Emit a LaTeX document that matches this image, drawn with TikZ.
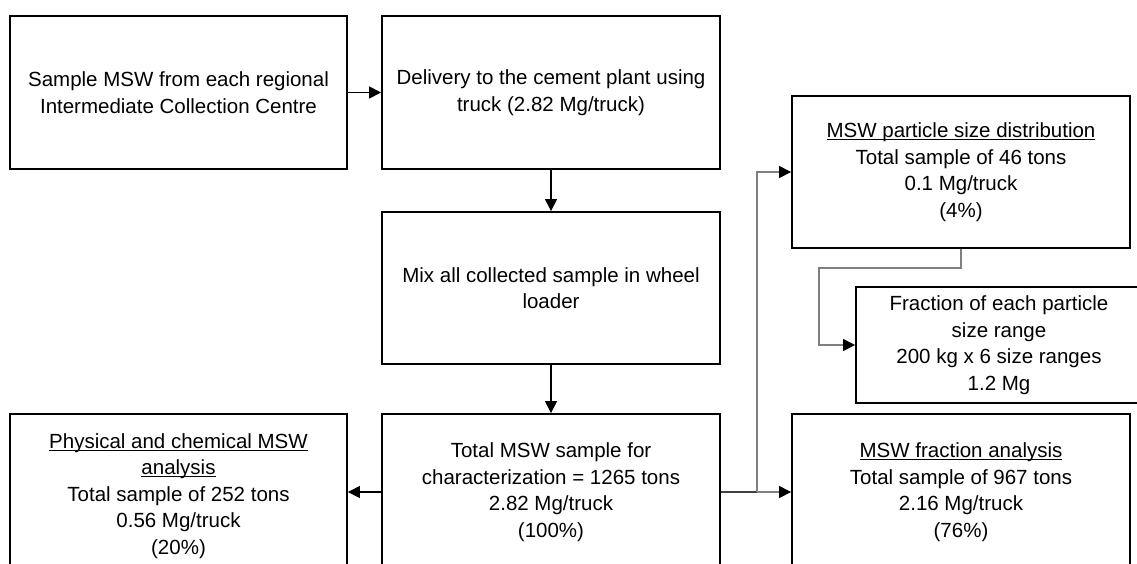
\documentclass[tikz,border=0pt]{standalone}
\usepackage{fontspec}
\setmainfont{Liberation Sans}
\usetikzlibrary{arrows.meta}
\newcommand\ulx[1]{\leavevmode\setbox0\hbox{#1}\rlap{\rule[-2.6pt]{\wd0}{1pt}}\box0}
\begin{document}
\begin{tikzpicture}[x=1pt,y=-1pt,
  box/.style={draw=black, line width=1.8pt, fill=white, align=center, inner sep=0pt,
    font=\fontsize{20.5}{26.5}\selectfont},
  conn/.style={line width=1.1pt, -{Triangle[length=12pt,width=12pt]}},
  gconn/.style={line width=1.1pt, draw=black!50, -{Triangle[length=12pt,width=12pt,color=black]}},
  plain/.style={line width=1.1pt, draw=black!75}]
\useasboundingbox (0,0) rectangle (1137,563);
\clip (0,0) rectangle (1137,563);
\node[box, minimum width=337pt, minimum height=153pt] (A) at (178.5,92.5)
  {Sample MSW from each regional\\Intermediate Collection Centre};
\node[box, minimum width=338pt, minimum height=153pt] (B) at (551,92.5)
  {Delivery to the cement plant using\\truck (2.82 Mg/truck)};
\node[box, minimum width=338pt, minimum height=152pt] (C) at (551,288)
  {Mix all collected sample in wheel\\loader};
\node[box, minimum width=338pt, minimum height=156pt] (D) at (551,492)
  {Total MSW sample for\\characterization = 1265 tons\\2.82 Mg/truck\\(100\%)};
\node[box, minimum width=337pt, minimum height=164pt] (E) at (178.5,496)
  {\ulx{Physical and chemical MSW}\\\ulx{analysis}\\Total sample of 252 tons\\0.56 Mg/truck\\(20\%)};
\node[box, minimum width=338pt, minimum height=152pt] (F) at (961,172)
  {\ulx{MSW particle size distribution}\\Total sample of 46 tons\\0.1 Mg/truck\\(4\%)};
\node[box, minimum width=338pt, minimum height=156pt] (G) at (961,492)
  {\ulx{MSW fraction analysis}\\Total sample of 967 tons\\2.16 Mg/truck\\(76\%)};
\node[box, minimum width=286pt, minimum height=116pt] (H) at (999,345)
  {Fraction of each particle\\size range\\200 kg x 6 size ranges\\1.2 Mg};
\coordinate (j) at (757,492);
\coordinate (k) at (819,268);
\draw[conn] (A.east) -- (B.west);
\draw[conn] (B.south) -- (C.north);
\draw[conn] (C.south) -- (D.north);
\draw[conn] (D.west) -- (D.west -| E.east);
\draw[plain] (D.east) -- (j);
\draw[gconn] (j) |- (F.west);
\draw[gconn] (j) -- (G.west);
\draw[gconn] (F.south) |- (k) |- (H.west);
\end{tikzpicture}
\end{document}
